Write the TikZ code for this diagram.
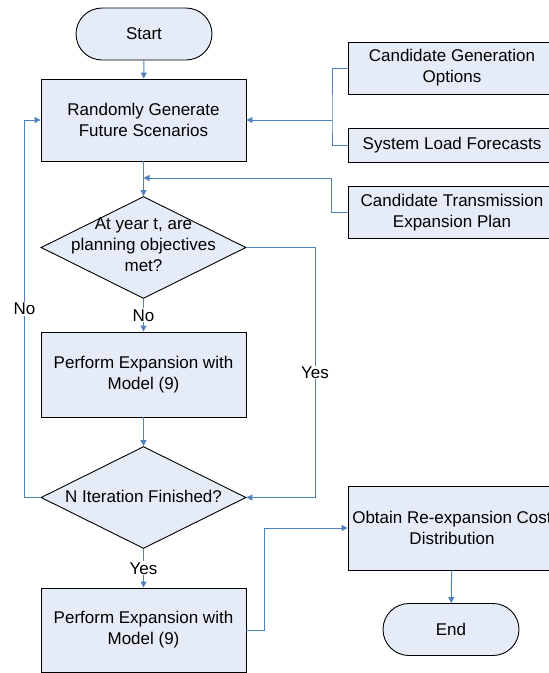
\documentclass[tikz,border=0pt]{standalone}
\usepackage{fontspec}
\setmainfont{Liberation Sans}
\usetikzlibrary{arrows.meta,shapes.geometric,positioning}
\definecolor{boxfill}{RGB}{230,236,247}
\definecolor{linkblue}{RGB}{79,129,189}

\begin{document}
\begin{tikzpicture}[
      x=1pt, y=-1pt,
      >={Triangle[length=6pt,width=6pt]},
      every node/.style={font=\fontsize{17}{21}\selectfont},
      link/.style={draw=linkblue, line width=1pt},
      flow/.style={link, ->},
      procbox/.style={draw=black, line width=0.9pt, fill=boxfill, align=center,
        minimum width=205pt, minimum height=84pt, inner sep=0pt},
      inbox/.style={procbox, minimum width=208pt},
      terminal/.style={procbox, rounded corners=26pt, minimum width=136pt,
        minimum height=52pt},
      decision/.style={draw=black, line width=0.9pt, fill=boxfill, diamond,
        minimum width=205pt, minimum height=102pt, inner sep=0pt},
      lab/.style={fill=white, inner sep=1pt}
    ]
    \useasboundingbox (0,0) rectangle (549,673);
    \clip (0,0) rectangle (549,673);

    % Main column
    \node[terminal] (start) at (144,34) {Start};
    \node[procbox, minimum height=82pt] (rand) at (143.5,120)
      {Randomly Generate\\Future Scenarios};
    \node[decision] (meet) at (143.5,247.5) {};
    \node[align=center] (meettxt) at (143.5,245) {At year t, are\\planning objectives\\met?};
    \node[procbox, minimum height=85pt] (exp1) at (143.5,374.5)
      {Perform Expansion with\\Model (9)};
    \node[decision] (iter) at (143.5,497.5) {};
    \node (itertxt) at (143.5,496) {N Iteration Finished?};
    \node[procbox] (exp2) at (143.5,630) {Perform Expansion with\\Model (9)};

    % Inputs
    \node[inbox, minimum height=52pt] (cgo) at (452,68)
      {Candidate Generation\\Options};
    \node[inbox, minimum height=34pt] (slf) at (452,145) {System Load Forecasts};
    \node[inbox, minimum height=52pt] (ctep) at (452,212.5)
      {Candidate Transmission\\Expansion Plan};

    % Output
    \node[procbox, minimum width=208pt] (obtain) at (452,528)
      {Obtain Re-expansion Cost\\Distribution};
    \node[terminal] (end) at (451,629.5) {End};

    % Connectors
    \coordinate (merge) at (332,120);
    \coordinate (inlet) at (143.5,178);
    \coordinate (yesx) at (315,247.5);
    \draw[flow] (start) -- (rand);
    \draw[link] (cgo.west) -| (merge) |- (slf.west);
    \draw[flow] (merge) -- (rand.east);
    \draw[flow] (ctep.west) -- ++(-16,0) |- (inlet);
    \draw[flow] (rand) -- (meet);
    \draw[flow] (meet) -- node[lab] {No} (exp1);
    \draw[flow] (meet.east) -- (yesx) |- node[lab, pos=0.25] {Yes} (iter.east);
    \draw[flow] (exp1) -- (iter);
    \draw[flow] (iter.west) -- ++(-16,0) |- node[lab, pos=0.25] {No} (rand.west);
    \draw[flow] (iter) -- node[lab] {Yes} (exp2);
    \draw[flow] (exp2.east) -- ++(18,0) |- (obtain.west);
    \draw[flow] (obtain) -- (end);
\end{tikzpicture}
\end{document}
